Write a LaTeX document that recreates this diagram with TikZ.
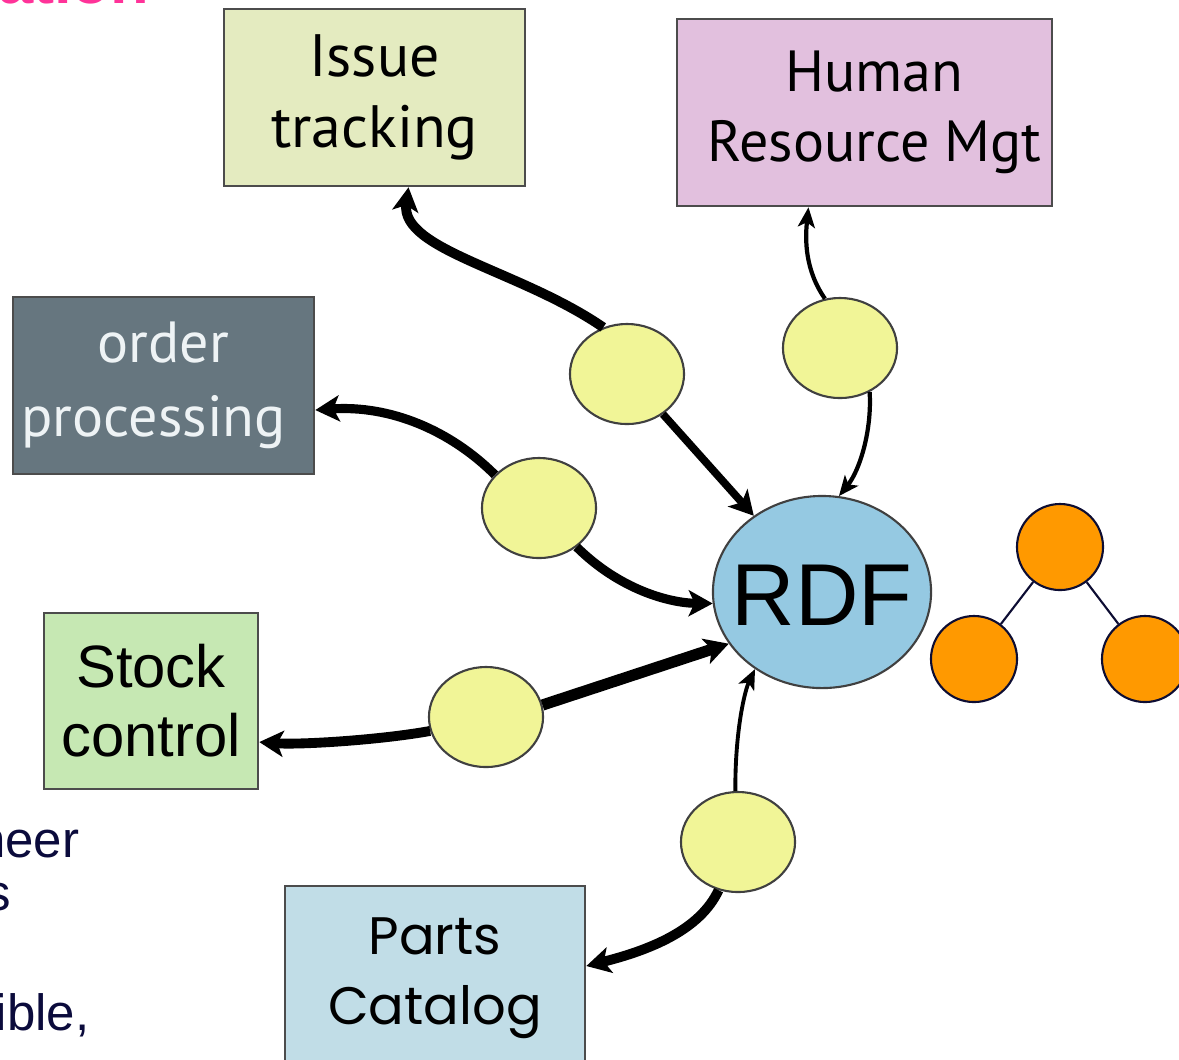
\documentclass[tikz,border=0pt]{standalone}
\usepackage{fontspec}
\usetikzlibrary{arrows.meta,shapes.geometric}

\newfontfamily\boxfont{PT Sans}
\newfontfamily\arialfont{Liberation Sans}
\newfontfamily\handfont{Poppins}

\definecolor{issuefill}{HTML}{E4EBC0}
\definecolor{hrfill}{HTML}{E2C0DE}
\definecolor{orderfill}{HTML}{66767F}
\definecolor{ordertext}{HTML}{EEF3F5}
\definecolor{stockfill}{HTML}{C6E8B3}
\definecolor{partsfill}{HTML}{C1DDE7}
\definecolor{rdffill}{HTML}{95C9E2}
\definecolor{portfill}{HTML}{F1F597}
\definecolor{treefill}{HTML}{FF9900}
\definecolor{treeline}{HTML}{0D0D33}
\definecolor{titlepink}{HTML}{FF3399}
\definecolor{slidenavy}{HTML}{0B0B3C}

\begin{document}
\begin{tikzpicture}[x=0.01cm, y=-0.01cm,
    sysbox/.style={draw=black!70, line width=0.7pt, minimum width=3.01cm, minimum height=1.77cm,
        align=center, inner sep=0pt, font=\boxfont\fontsize{17pt}{20pt}\selectfont},
    port/.style={ellipse, draw=black!75, line width=0.6pt, fill=portfill,
        minimum width=1.14cm, minimum height=1cm, inner sep=0pt},
    treenode/.style={circle, draw=treeline, line width=0.6pt, fill=treefill, minimum size=0.86cm, inner sep=0pt},
    slidetext/.style={inner sep=0pt, text=slidenavy, font=\arialfont\fontsize{14.5pt}{18pt}\selectfont},
    link/.style={line width=#1, -{Stealth[length=0.24cm, width=0.26cm, inset=0.06cm]}},
    thinlink/.style={line width=#1, -{Stealth[length=0.2cm, width=0.17cm, inset=0.05cm]}}
]
    % Frame
    \useasboundingbox (0,0) rectangle (1179,1059);
    \clip (0,0) rectangle (1179,1059);

    % Slide text cut by the frame
    \node[slidetext, text=titlepink, font=\arialfont\bfseries\fontsize{18pt}{20pt}\selectfont, anchor=base east] (title) at (150,3) {ation};
    \node[slidetext, anchor=base east] (neer) at (80,857) {neer};
    \node[slidetext, anchor=base east] (plural) at (12,910) {s};
    \node[slidetext, anchor=base east] (ible) at (90,1030) {ible,};

    % Systems
    \node[sysbox, fill=issuefill] (issue) at (374.5,97.5) {Issue\\tracking};
    \node[sysbox, fill=hrfill, minimum width=3.75cm, minimum height=1.87cm,
        font=\boxfont\fontsize{16.5pt}{20pt}\selectfont] (hr) at (864.5,112.5) {\hspace*{0.2cm}Human\\\hspace*{0.2cm}Resource Mgt};
    \node[sysbox, fill=orderfill, text=ordertext,
        font=\boxfont\fontsize{16.5pt}{21pt}\selectfont] (order) at (163.5,385.5) {order\\processing\hspace*{0.2cm}};
    \node[sysbox, fill=stockfill, minimum width=2.14cm, minimum height=1.76cm,
        font=\arialfont\fontsize{17pt}{19.6pt}\selectfont] (stock) at (151,701) {Stock\\control};
    \node[sysbox, fill=partsfill, minimum width=3cm, minimum height=1.84cm,
        font=\handfont\fontsize{15pt}{20pt}\selectfont] (parts) at (435,978) {Parts\\Catalog};

    % RDF hub
    \node[ellipse, draw=black!75, line width=0.6pt, fill=rdffill, minimum width=2.18cm, minimum height=1.92cm,
        inner sep=0pt, label={[font=\arialfont\fontsize{25pt}{25pt}\selectfont, yshift=-0.03cm]center:RDF}] (rdf) at (822,592) {};

    % Adapters
    \foreach \n/\x/\y in {1/627/374, 2/840/348, 3/539/508, 4/486/717, 5/738/842} {
        \node[port] (p\n) at (\x,\y) {};
    }

    % Links out to the systems
    \draw[link=2.8pt] (p1.117) .. controls (520,270) and (400,250) .. ([xshift=0.34cm]issue.south);
    \draw[thinlink=1.2pt] (p2.107) .. controls (805,270) and (805,240) .. ([xshift=-0.56cm]hr.south);
    \draw[link=2.6pt] (p3.143) .. controls (450,430) and (390,405) .. ([yshift=-0.245cm]order.east);
    \draw[link=2.8pt] (p4.194) .. controls (380,740) and (300,745) .. ([yshift=-0.41cm]stock.east);
    \draw[link=2.8pt] (p5.248) .. controls (700,930) and (650,950) .. ([yshift=0.12cm]parts.east);

    % Links in to RDF
    \draw[link=2.2pt] (p1) -- (rdf);
    \draw[thinlink=1.2pt] (p2.-56) .. controls (872,430) and (860,470) .. (rdf.80);
    \draw[link=2.6pt] (p3.-46) .. controls (620,590) and (670,603) .. (rdf.186);
    \draw[link=3.2pt] (p4.12) -- (rdf.209);
    \draw[thinlink=1.1pt] (p5.93) .. controls (735,730) and (745,690) .. (rdf.229);

    % Small tree
    \node[treenode] (root) at (1060,547) {};
    \node[treenode] (leftleaf) at (974,659) {};
    \node[treenode] (rightleaf) at (1145,659) {};
    \draw[treeline, line width=0.6pt] (root) -- (leftleaf);
    \draw[treeline, line width=0.6pt] (root) -- (rightleaf);
\end{tikzpicture}
\end{document}
